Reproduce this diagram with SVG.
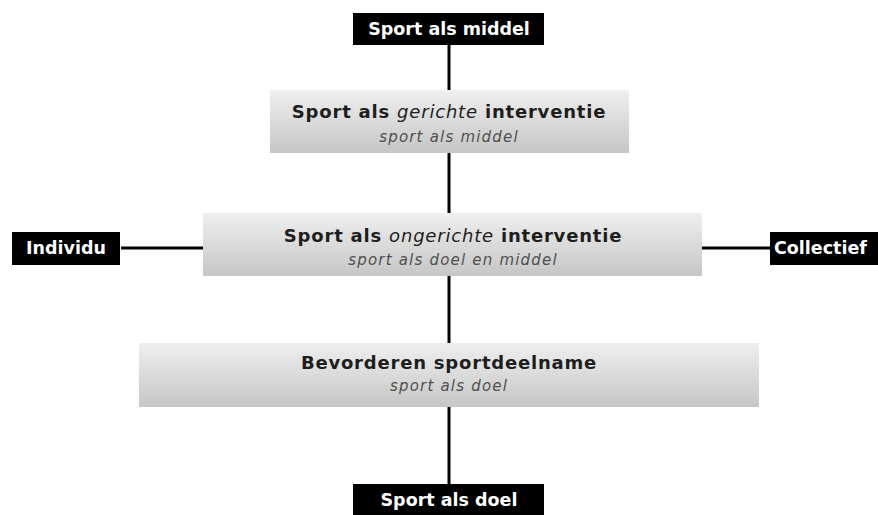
<svg xmlns="http://www.w3.org/2000/svg" width="878" height="515" viewBox="0 0 878 515">
<defs>
<linearGradient id="g" x1="0" y1="0" x2="0" y2="1">
<stop offset="0" stop-color="#efefef"/>
<stop offset="1" stop-color="#c6c6c6"/>
</linearGradient>
<style>
.lbl{fill:#000}
.lt{fill:#fff;font-family:"DejaVu Sans",sans-serif;font-weight:bold;font-size:17.5px}
.m{text-anchor:middle}
.st{text-anchor:start}
.box{fill:url(#g)}
.t{fill:#1e1e1e;font-family:"DejaVu Sans",sans-serif;font-weight:bold;font-size:18px;letter-spacing:0.8px;text-anchor:middle}
.s{fill:#505050;font-family:"DejaVu Sans",sans-serif;font-style:italic;font-size:15px;letter-spacing:1.2px;text-anchor:middle}
.c{stroke:#000;stroke-width:3;fill:none}
</style>
</defs>
<rect width="878" height="515" fill="#fff"/>
<g id="connectors">
<line class="c" x1="449" y1="45" x2="449" y2="90"/>
<line class="c" x1="449" y1="153" x2="449" y2="213"/>
<line class="c" x1="449" y1="276" x2="449" y2="343"/>
<line class="c" x1="449" y1="407" x2="449" y2="484"/>
<line class="c" x1="121" y1="248" x2="203" y2="248"/>
<line class="c" x1="702" y1="248" x2="770" y2="248"/>
</g>
<g id="sport-als-middel">
<rect class="lbl" x="353" y="13" width="191" height="32"/>
<text class="lt m" x="449" y="35">Sport als middel</text>
</g>
<g id="gerichte">
<rect class="box" x="270" y="90" width="359" height="63"/>
<text class="t" x="449" y="118">Sport als <tspan font-style="italic" font-weight="normal">gerichte</tspan> interventie</text>
<text class="s" x="449" y="142">sport als middel</text>
</g>
<g id="ongerichte">
<rect class="box" x="203" y="213" width="499" height="63"/>
<text class="t" x="453" y="242">Sport als <tspan font-style="italic" font-weight="normal">ongerichte</tspan> interventie</text>
<text class="s" x="453" y="265">sport als doel en middel</text>
</g>
<g id="bevorderen">
<rect class="box" x="139" y="343" width="620" height="64"/>
<text class="t" x="449" y="369">Bevorderen sportdeelname</text>
<text class="s" x="449" y="391">sport als doel</text>
</g>
<g id="individu">
<rect class="lbl" x="12" y="232" width="108" height="33"/>
<text class="lt m" x="66" y="254">Individu</text>
</g>
<g id="collectief">
<rect class="lbl" x="770" y="232" width="108" height="33"/>
<text class="lt st" x="774" y="254">Collectief</text>
</g>
<g id="sport-als-doel">
<rect class="lbl" x="353" y="484" width="191" height="31"/>
<text class="lt m" x="449" y="506">Sport als doel</text>
</g>
</svg>
